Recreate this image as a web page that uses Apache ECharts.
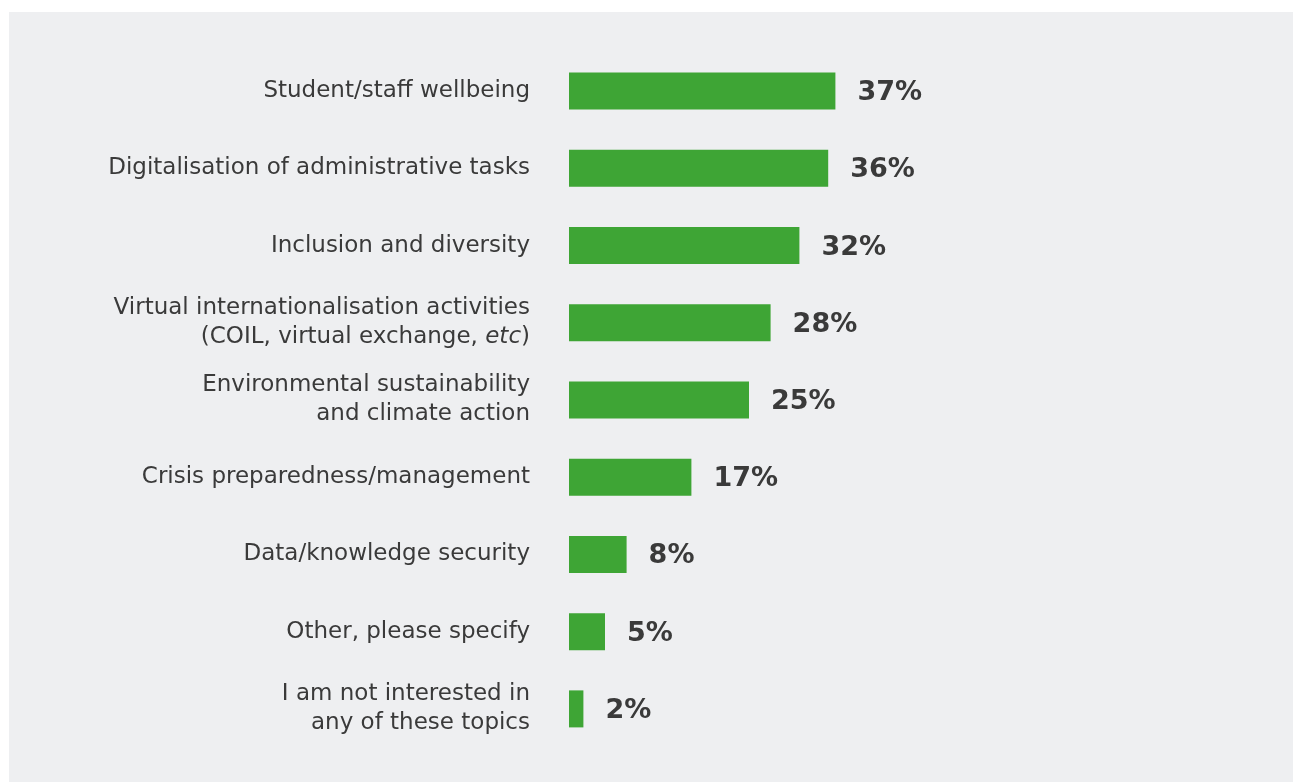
<!DOCTYPE html>
<html><head><meta charset="utf-8">
<script src="https://cdn.jsdelivr.net/npm/echarts@6/dist/echarts.min.js"></script>
<style>html,body{margin:0;padding:0;background:#fff}#c{width:1293px;height:782px}</style>
</head><body><div id="c"></div>
<script>
const categories = [
  "Student/staff wellbeing",
  "Digitalisation of administrative tasks",
  "Inclusion and diversity",
  "Virtual internationalisation activities\n(COIL, virtual exchange, {i|etc})",
  "Environmental sustainability\nand climate action",
  "Crisis preparedness/management",
  "Data/knowledge security",
  "Other, please specify",
  "I am not interested in\nany of these topics"
];
const values = [37, 36, 32, 28, 25, 17, 8, 5, 2];

const chart = echarts.init(document.getElementById('c'), null, {renderer:'canvas'});
const FONT = '"DejaVu Sans", sans-serif';
chart.setOption({
  backgroundColor: '#ffffff',
  animation: false,
  graphic: [{type:'rect', shape:{x:9, y:12, width:1284, height:770}, style:{fill:'#eeeff1'}, z:-10}],
  grid: {left: 569, top: 52.5, width: 288, height: 695},
  xAxis: {type:'value', min:0, max:40, show:false},
  yAxis: {
    type:'category', data: categories, inverse: true,
    axisLine:{show:false}, axisTick:{show:false},
    axisLabel:{
      margin: 39, color:'#3a3a3a', fontFamily: FONT, fontSize: 23, lineHeight: 29, align:'right',
      rich: {i:{fontStyle:'italic', color:'#3a3a3a', fontFamily: FONT, fontSize:23, lineHeight:29}}
    }
  },
  series: [{
    type:'bar', data: values, barWidth: 37,
    itemStyle:{color:'#3ea535'},
    label:{show:true, position:'right', distance: 22, offset:[0,2], formatter:'{c}%', color:'#3a3a3a',
      fontFamily: FONT, fontWeight:'bold', fontSize: 27}
  }]
});
</script></body></html>
